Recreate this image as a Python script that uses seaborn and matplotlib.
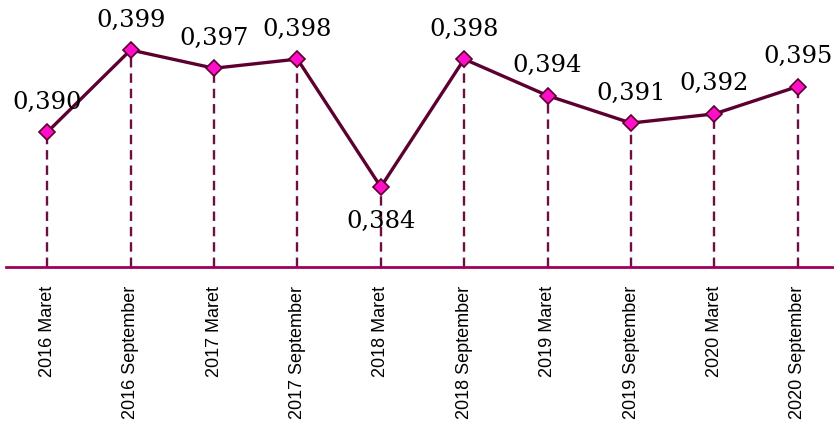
import matplotlib
matplotlib.use("Agg")
import matplotlib.pyplot as plt
import seaborn as sns
import pandas as pd

# data
periods = ["2016 Maret", "2016 September", "2017 Maret", "2017 September",
           "2018 Maret", "2018 September", "2019 Maret", "2019 September",
           "2020 Maret", "2020 September"]
gini = [0.390, 0.399, 0.397, 0.398, 0.384, 0.398, 0.394, 0.391, 0.392, 0.395]

df = pd.DataFrame({"idx": range(len(periods)), "gini": gini})

sns.set_style("white")
plt.rcParams["font.family"] = ["Liberation Sans", "DejaVu Sans"]

fig = plt.figure(figsize=(8.34, 4.27), dpi=100)
ax = fig.add_axes([0.0066, 0.3724, 1.0, 0.6276])

line_c = "#5c0030"
# dashed drop lines
ax.vlines(df["idx"], 0.37524, df["gini"], colors="#6b1040", linestyles=(0, (4, 2.5)),
          linewidth=1.7, zorder=1)
sns.lineplot(data=df, x="idx", y="gini", ax=ax, color=line_c, linewidth=2.4,
             marker="D", markersize=8, markerfacecolor="#ff10c8",
             markeredgecolor=line_c, markeredgewidth=1.2, zorder=3)

for i, v in enumerate(gini):
    lab = f"{v:.3f}".replace(".", ",")
    if v == min(gini):
        ax.annotate(lab, (i, v), xytext=(0, -16), textcoords="offset points",
                    ha="center", va="top", fontsize=17.5, family="DejaVu Serif",
                    color="black")
    else:
        ax.annotate(lab, (i, v), xytext=(0, 14), textcoords="offset points",
                    ha="center", va="bottom", fontsize=17.5, family="DejaVu Serif",
                    color="black")

ax.set_xlim(-0.5, 9.5)
ax.set_ylim(0.37524, 0.40458)
ax.set_xticks(df["idx"])
ax.set_xticklabels(periods, rotation=90, fontsize=13, color="black")
ax.tick_params(axis="x", length=0, pad=13)
ax.set_yticks([])
ax.set_xlabel("")
ax.set_ylabel("")
for s in ["top", "right", "left"]:
    ax.spines[s].set_visible(False)
ax.spines["bottom"].set_color("#a0005a")
ax.spines["bottom"].set_linewidth(2)

fig.savefig("out.png", dpi=100)
